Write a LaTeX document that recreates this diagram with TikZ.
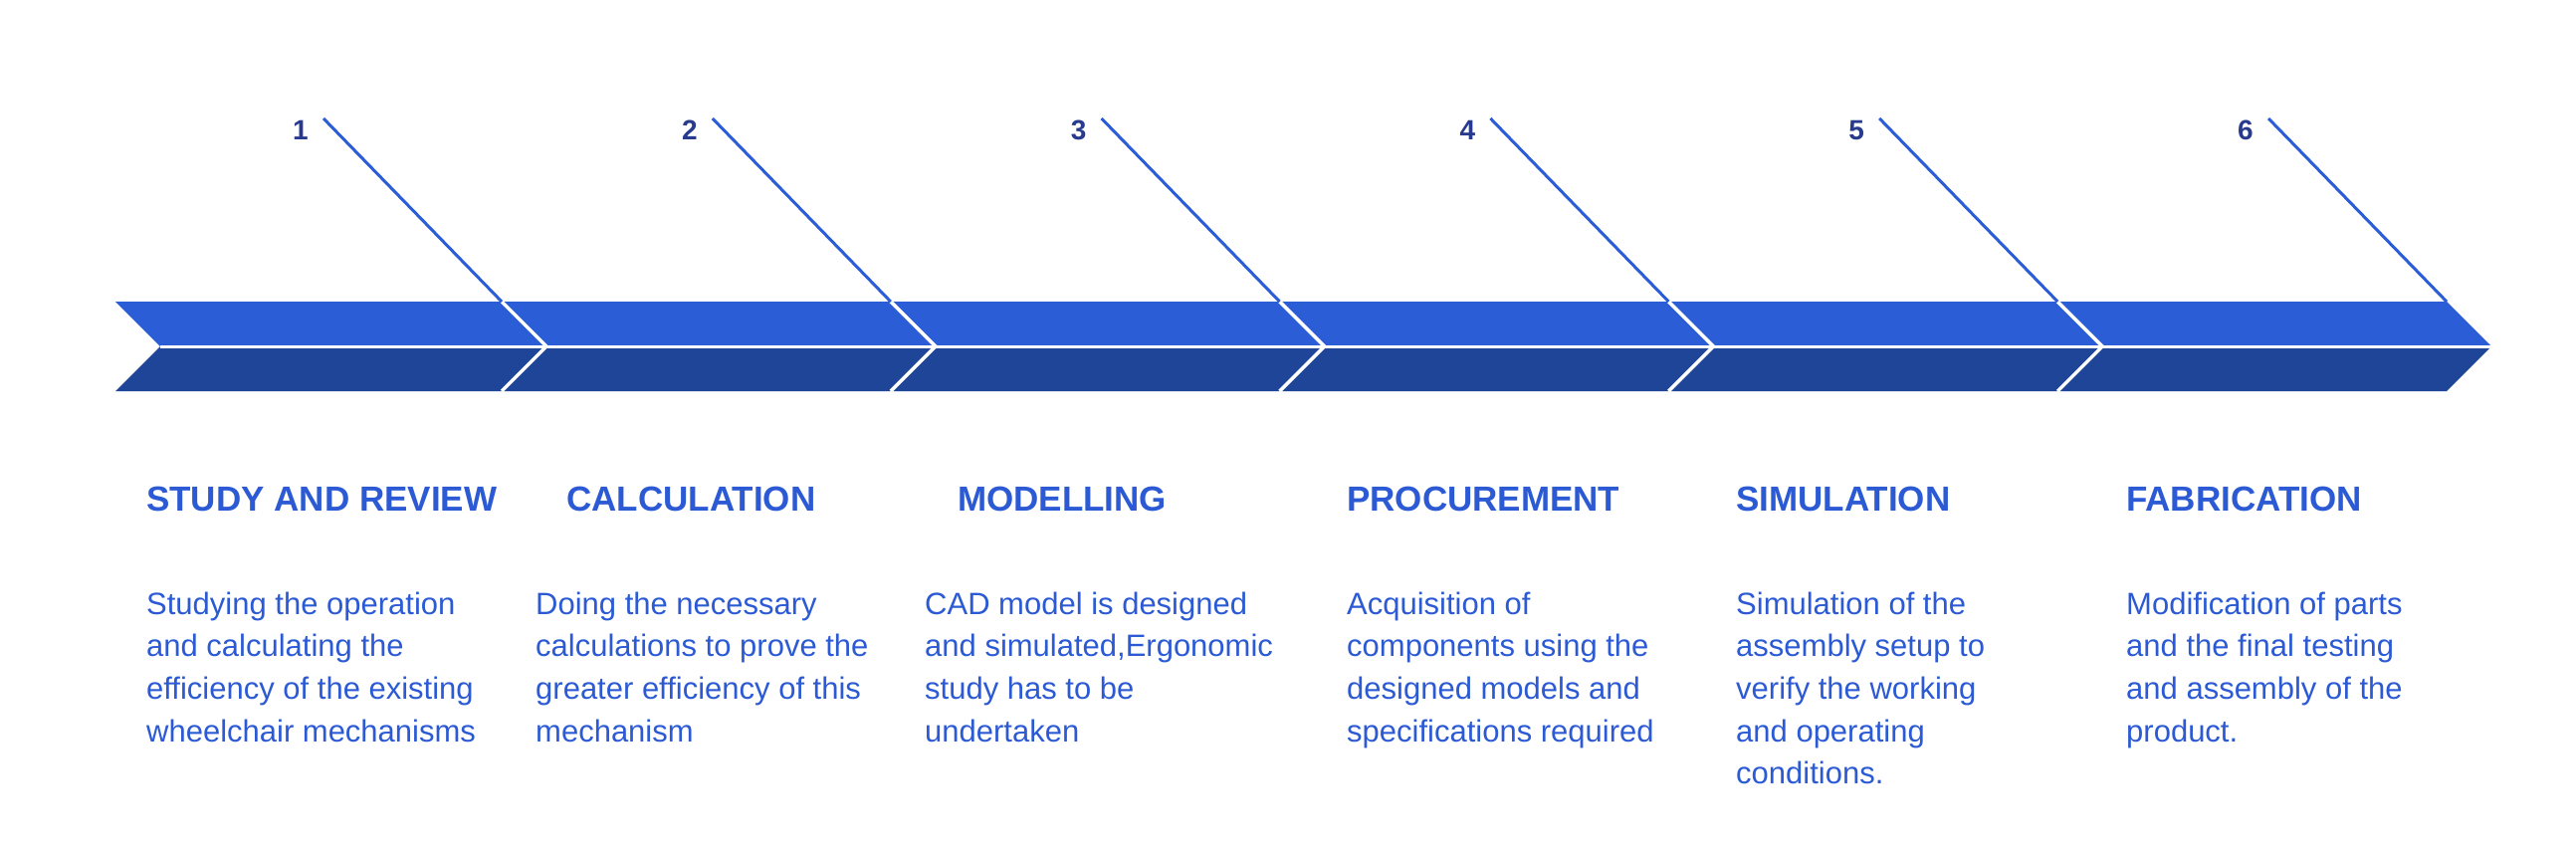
\documentclass[tikz,border=0pt]{standalone}
\usepackage{fontspec}
\setmainfont{Liberation Sans}
\definecolor{bandlight}{HTML}{2B5DD6}
\definecolor{banddark}{HTML}{1F4599}
\definecolor{txtblue}{HTML}{2B5AD4}
\definecolor{numnavy}{HTML}{283A8E}
\newcommand{\bodylines}[1]{\begin{tabular}[t]{@{}l@{}}#1\end{tabular}}
\begin{document}
\begin{tikzpicture}[x=1pt,y=-1pt,
  numlabel/.style={anchor=base, inner sep=0pt, text=numnavy, font=\fontsize{28}{28}\selectfont\bfseries},
  heading/.style={anchor=base west, inner sep=0pt, text=txtblue, font=\fontsize{35}{40}\selectfont\bfseries},
  bodytext/.style={anchor=base west, inner sep=0pt, text=txtblue, font=\fontsize{31}{42.7}\selectfont},
  leader/.style={draw=bandlight, line width=3pt},
  sepline/.style={draw=white, line width=3.5pt, line join=miter}]
\useasboundingbox (0,0) rectangle (2588,854);
\coordinate (tailtop) at (116,303);
\coordinate (tailnotch) at (161,348);
\coordinate (tailbot) at (116,393);
\foreach \k in {1,...,6}{
  \pgfmathsetmacro\tx{549+390.8*(\k-1)}
  \coordinate (tip\k) at (\tx,348);
  \coordinate (top\k) at (\tx-45,303);
  \coordinate (bot\k) at (\tx-45,393);
  \coordinate (ls\k) at (\tx-224,119);
  \node[numlabel] (n\k) at (\tx-247,140) {\k};
}
\fill[bandlight] (tailtop) -- (top6) -- (tip6) -- (tailnotch) -- cycle;
\fill[banddark] (tailnotch) -- (tip6) -- (bot6) -- (tailbot) -- cycle;
\draw[white, line width=3pt] (tailnotch) -- (tip6);
\foreach \k in {1,...,5}{
  \draw[sepline] (top\k) -- (tip\k) -- (bot\k);
}
\foreach \k in {1,...,6}{
  \draw[leader] (ls\k) -- (top\k);
}
\node[heading] (h1) at (147,513) {STUDY AND REVIEW};
\node[heading] (h2) at (569,513) {CALCULATION};
\node[heading] (h3) at (962,513) {MODELLING};
\node[heading] (h4) at (1353,513) {PROCUREMENT};
\node[heading] (h5) at (1744,513) {SIMULATION};
\node[heading] (h6) at (2136,513) {FABRICATION};
\node[bodytext] (b1) at (147,617) {\bodylines{Studying the operation\\and calculating the\\efficiency of the existing\\wheelchair mechanisms}};
\node[bodytext] (b2) at (538,617) {\bodylines{Doing the necessary\\calculations to prove the\\greater efficiency of this\\mechanism}};
\node[bodytext] (b3) at (929,617) {\bodylines{CAD model is designed\\and simulated,Ergonomic\\study has to be\\undertaken}};
\node[bodytext] (b4) at (1353,617) {\bodylines{Acquisition of\\components using the\\designed models and\\specifications required}};
\node[bodytext] (b5) at (1744,617) {\bodylines{Simulation of the\\assembly setup to\\verify the working\\and operating\\conditions.}};
\node[bodytext] (b6) at (2136,617) {\bodylines{Modification of parts\\and the final testing\\and assembly of the\\product.}};
\end{tikzpicture}
\end{document}
